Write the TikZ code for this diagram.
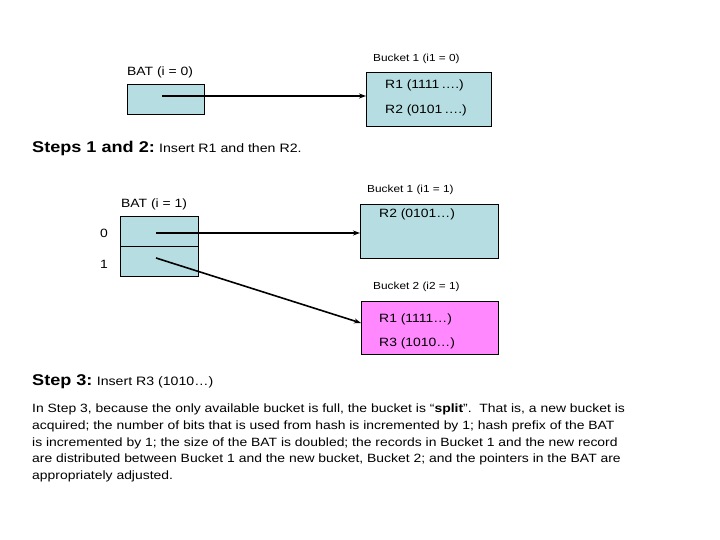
\documentclass[tikz,border=0pt]{standalone}
\usepackage{fontspec}
\setmainfont{Liberation Sans}[FakeStretch=1.16]
\usetikzlibrary{arrows.meta}
\definecolor{lblue}{RGB}{182,222,226}
\definecolor{lmag}{RGB}{255,136,255}
\tikzset{
  x=1pt, y=-1pt,
  box/.style={draw=black, line width=0.8pt},
  lbl/.style={anchor=west, inner sep=0pt, font=\fontsize{12}{14}\selectfont},
  blbl/.style={anchor=west, inner sep=0pt, font=\fontsize{10.2}{12}\selectfont},
  ptr/.style={line width=1.6pt, -{Stealth[length=7pt,width=5pt]}},
}
\begin{document}
\begin{tikzpicture}
\useasboundingbox (0,0) rectangle (720,540);
% ---- Steps 1 and 2
\draw[box, fill=lblue] (127,84) rectangle (204,114);
\node[box, fill=lblue, minimum width=125pt, minimum height=54pt, anchor=north west, inner sep=0pt] (b1a) at (366,72) {};
\node[lbl] (bat0) at (127,72) {BAT (i = 0)};
\node[blbl] (b1alab) at (373,59) {Bucket 1 (i1 = 0)};
\node[lbl] (r1a) at (385,85) {R1 (1111\,\ldots.)};
\node[lbl] (r2a) at (385,110) {R2 (0101\,\ldots.)};
\coordinate (p0) at (162,96);
\draw[ptr] (p0) -- (b1a.west |- p0);
\node[anchor=west, inner sep=0pt] (s12) at (32,148) {{\fontsize{15.6}{18}\selectfont\bfseries Steps 1 and 2:} {\fontsize{12.2}{14}\selectfont Insert R1 and then R2.}};
% ---- Step 3
\draw[box, fill=lblue] (120,216) rectangle (198,276);
\draw[box] (120,246) -- (198,246);
\node[lbl] (bat1) at (121,204) {BAT (i = 1)};
\node[lbl] (d0) at (100,233) {0};
\node[lbl] (d1) at (100,264) {1};
\node[box, fill=lblue, minimum width=138pt, minimum height=54pt, anchor=north west, inner sep=0pt] (b1b) at (360,204) {};
\node[blbl] (b1blab) at (367,190) {Bucket 1 (i1 = 1)};
\node[lbl] (r2b) at (379,214) {R2 (0101\ldots)};
\node[box, fill=lmag, minimum width=137pt, minimum height=53pt, anchor=north west, inner sep=0pt] (b2) at (361,301) {};
\node[blbl] (b2lab) at (373,287) {Bucket 2 (i2 = 1)};
\node[lbl] (r1b) at (379,319) {R1 (1111\ldots)};
\node[lbl] (r3b) at (379,343) {R3 (1010\ldots)};
\coordinate (q0) at (156,233);
\coordinate (q1) at (156,258);
\draw[ptr] (q0) -- (b1b.west |- q0);
\draw[ptr] (q1) -- (b2.west |- 0,323);
\node[anchor=west, inner sep=0pt] (s3) at (32,382) {{\fontsize{15.6}{18}\selectfont\bfseries Step 3:} {\fontsize{12.2}{14}\selectfont Insert R3 (1010\ldots)}};
\node[anchor=north west, inner sep=0pt, align=left, font=\fontsize{12}{16.7}\selectfont] (para) at (32,404) {In Step 3, because the only available bucket is full, the bucket is ``\textbf{split}''.\ \ That is, a new bucket is\\
acquired; the number of bits that is used from hash is incremented by 1; hash prefix of the BAT\\
is incremented by 1; the size of the BAT is doubled; the records in Bucket 1 and the new record\\
are distributed between Bucket 1 and the new bucket, Bucket 2; and the pointers in the BAT are\\
appropriately adjusted.};
\end{tikzpicture}
\end{document}
